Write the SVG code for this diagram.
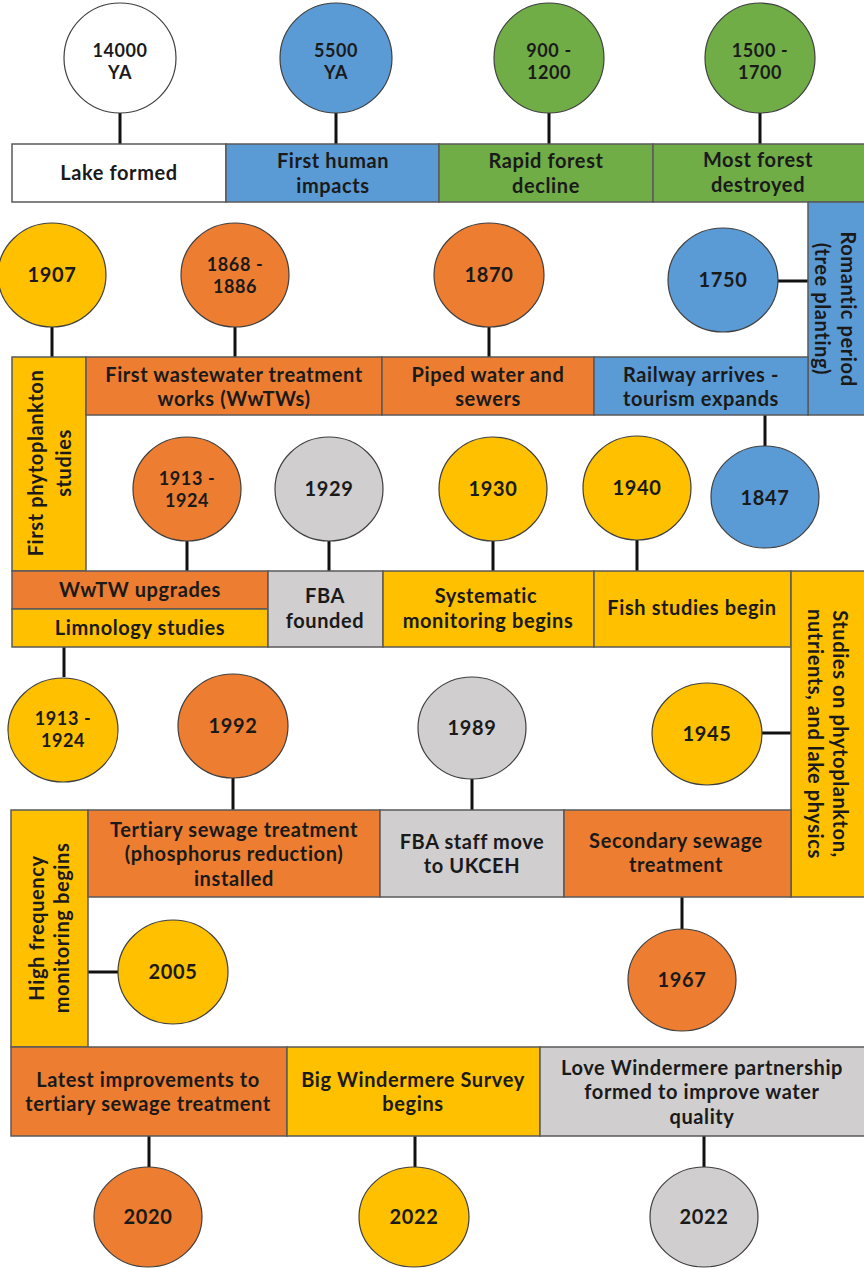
<svg xmlns="http://www.w3.org/2000/svg" width="864" height="1268" viewBox="0 0 864 1268">
<style>
.t{font-family:Lato,"Noto Sans","Liberation Sans",sans-serif;font-weight:bold;font-size:20px;letter-spacing:0.6px;fill:#1a1a1a;text-anchor:middle}
.s{font-size:18px}
.c{stroke:#3f3f3f;stroke-width:1.2}
.b{stroke:#5a5a5a;stroke-width:1.5}
.w{fill:#ffffff}.bl{fill:#5b9bd5}.gr{fill:#70ad47}.or{fill:#ed7d31}.ye{fill:#ffc000}.gy{fill:#d0cece}
.ln{stroke:#111;stroke-width:3;fill:none}
</style>
<rect width="864" height="1268" fill="#ffffff"/>
<g id="connectors">
<path class="ln" d="M120 113V144M336 113V144M549 113V144M760 113V144"/>
<path class="ln" d="M52 327V357M235 327V357M489 327V357M778 281H808M765 415V447"/>
<path class="ln" d="M187 541V571M329 541V571M493 541V571M637 540V571"/>
<path class="ln" d="M64 647V677M233 778V810M472 779V810M762 733H791M682 897V929"/>
<path class="ln" d="M88 972H118M149 1136V1167M415 1136V1167M704 1136V1167"/>
</g>
<!-- Row 1 -->
<g id="bar-lake"><rect class="b w" x="12" y="144" width="214" height="58"/><text class="t" x="119" y="180">Lake formed</text></g>
<g id="bar-human"><rect class="b bl" x="226" y="144" width="213" height="58"/><text class="t" x="333" y="168">First human</text><text class="t" x="333" y="193">impacts</text></g>
<g id="bar-rapid"><rect class="b gr" x="439" y="144" width="214" height="58"/><text class="t" x="546" y="168">Rapid forest</text><text class="t" x="546" y="193">decline</text></g>
<g id="bar-most"><rect class="b gr" x="653" y="144" width="213" height="58"/><text class="t" x="758" y="167">Most forest</text><text class="t" x="758" y="192">destroyed</text></g>
<g id="c-14000"><ellipse class="c w" cx="120" cy="58" rx="56" ry="55"/><text class="t s" x="120" y="57">14000</text><text class="t s" x="120" y="79">YA</text></g>
<g id="c-5500"><ellipse class="c bl" cx="336" cy="58" rx="56" ry="55"/><text class="t s" x="336" y="57">5500</text><text class="t s" x="336" y="79">YA</text></g>
<g id="c-900"><ellipse class="c gr" cx="549" cy="58" rx="55" ry="55"/><text class="t s" x="549" y="57">900 -</text><text class="t s" x="549" y="79">1200</text></g>
<g id="c-1500"><ellipse class="c gr" cx="760" cy="58" rx="55" ry="55"/><text class="t s" x="760" y="57">1500 -</text><text class="t s" x="760" y="79">1700</text></g>
<!-- Row 2 -->
<g id="bar-romantic"><rect class="b bl" x="808" y="202" width="58" height="213"/><g transform="translate(835 309) rotate(90)"><text class="t" x="0" y="-6">Romantic period</text><text class="t" x="0" y="20">(tree planting)</text></g></g>
<g id="bar-phyto"><rect class="b ye" x="12" y="357" width="74" height="214"/><g transform="translate(49 463) rotate(-90)"><text class="t" x="0" y="-6">First phytoplankton</text><text class="t" x="0" y="22">studies</text></g></g>
<g id="bar-wwtw"><rect class="b or" x="86" y="357" width="296" height="58"/><text class="t" x="234" y="382">First wastewater treatment</text><text class="t" x="234" y="406">works (WwTWs)</text></g>
<g id="bar-piped"><rect class="b or" x="382" y="357" width="212" height="58"/><text class="t" x="488" y="382">Piped water and</text><text class="t" x="488" y="406">sewers</text></g>
<g id="bar-railway"><rect class="b bl" x="594" y="357" width="214" height="58"/><text class="t" x="701" y="382">Railway arrives -</text><text class="t" x="701" y="406">tourism expands</text></g>
<g id="c-1907"><ellipse class="c ye" cx="52" cy="275" rx="54" ry="52"/><text class="t" x="52" y="282">1907</text></g>
<g id="c-1868"><ellipse class="c or" cx="235" cy="275" rx="54" ry="52"/><text class="t s" x="235" y="271">1868 -</text><text class="t s" x="235" y="293">1886</text></g>
<g id="c-1870"><ellipse class="c or" cx="489" cy="275" rx="55" ry="52"/><text class="t" x="489" y="282">1870</text></g>
<g id="c-1750"><ellipse class="c bl" cx="723" cy="280" rx="55" ry="52"/><text class="t" x="723" y="287">1750</text></g>
<g id="c-1847"><ellipse class="c bl" cx="765" cy="497" rx="54" ry="51"/><text class="t" x="765" y="505">1847</text></g>
<!-- Row 3 -->
<g id="bar-upgrades"><rect class="b or" x="12" y="571" width="256" height="38"/><text class="t" x="140" y="597">WwTW upgrades</text></g>
<g id="bar-limno"><rect class="b ye" x="12" y="609" width="256" height="38"/><text class="t" x="140" y="635">Limnology studies</text></g>
<g id="bar-fba"><rect class="b gy" x="268" y="571" width="115" height="76"/><text class="t" x="325" y="603">FBA</text><text class="t" x="325" y="628">founded</text></g>
<g id="bar-systematic"><rect class="b ye" x="383" y="571" width="211" height="76"/><text class="t" x="486" y="603">Systematic</text><text class="t" x="488" y="628">monitoring  begins</text></g>
<g id="bar-fish"><rect class="b ye" x="594" y="571" width="197" height="76"/><text class="t" x="692" y="615">Fish studies begin</text></g>
<g id="bar-studies"><rect class="b ye" x="791" y="571" width="75" height="326"/><g transform="translate(827 734) rotate(90)"><text class="t" x="0" y="-6">Studies on phytoplankton,</text><text class="t" x="0" y="19">nutrients, and lake physics</text></g></g>
<g id="c-1913a"><ellipse class="c or" cx="187" cy="489" rx="54" ry="52"/><text class="t s" x="187" y="485">1913 -</text><text class="t s" x="187" y="507">1924</text></g>
<g id="c-1929"><ellipse class="c gy" cx="329" cy="489" rx="54" ry="52"/><text class="t" x="329" y="496">1929</text></g>
<g id="c-1930"><ellipse class="c ye" cx="493" cy="489" rx="54" ry="52"/><text class="t" x="493" y="496">1930</text></g>
<g id="c-1940"><ellipse class="c ye" cx="637" cy="488" rx="54" ry="52"/><text class="t" x="637" y="495">1940</text></g>
<!-- Row 4 -->
<g id="c-1913b"><ellipse class="c ye" cx="63" cy="730" rx="55" ry="52"/><text class="t s" x="63" y="725">1913 -</text><text class="t s" x="63" y="747">1924</text></g>
<g id="c-1992"><ellipse class="c or" cx="233" cy="726" rx="55" ry="52"/><text class="t" x="233" y="733">1992</text></g>
<g id="c-1989"><ellipse class="c gy" cx="472" cy="728" rx="54" ry="51"/><text class="t" x="472" y="735">1989</text></g>
<g id="c-1945"><ellipse class="c ye" cx="707" cy="734" rx="55" ry="51"/><text class="t" x="707" y="741">1945</text></g>
<g id="bar-high"><rect class="b ye" x="11" y="810" width="77" height="237"/><g transform="translate(49 928) rotate(-90)"><text class="t" x="0" y="-5">High frequency</text><text class="t" x="0" y="20">monitoring begins</text></g></g>
<g id="bar-tertiary"><rect class="b or" x="88" y="810" width="292" height="87"/><text class="t" x="234" y="837">Tertiary sewage treatment</text><text class="t" x="234" y="861">(phosphorus reduction)</text><text class="t" x="234" y="886">installed</text></g>
<g id="bar-staff"><rect class="b gy" x="380" y="810" width="184" height="87"/><text class="t" x="472" y="849">FBA staff move</text><text class="t" x="472" y="873">to UKCEH</text></g>
<g id="bar-secondary"><rect class="b or" x="564" y="810" width="227" height="87"/><text class="t" x="676" y="848">Secondary sewage</text><text class="t" x="676" y="872">treatment</text></g>
<g id="c-1967"><ellipse class="c or" cx="682" cy="980" rx="54" ry="51"/><text class="t" x="682" y="987">1967</text></g>
<g id="c-2005"><ellipse class="c ye" cx="173" cy="972" rx="55" ry="52"/><text class="t" x="173" y="979">2005</text></g>
<!-- Row 5 -->
<g id="bar-latest"><rect class="b or" x="11" y="1047" width="276" height="89"/><text class="t" x="148" y="1087">Latest improvements to</text><text class="t" x="148" y="1111">tertiary sewage treatment</text></g>
<g id="bar-big"><rect class="b ye" x="287" y="1047" width="253" height="89"/><text class="t" x="413" y="1087">Big Windermere Survey</text><text class="t" x="413" y="1111">begins</text></g>
<g id="bar-love"><rect class="b gy" x="540" y="1047" width="326" height="89"/><text class="t" x="702" y="1075">Love Windermere partnership</text><text class="t" x="702" y="1099">formed to improve water</text><text class="t" x="702" y="1124">quality</text></g>
<g id="c-2020"><ellipse class="c or" cx="148" cy="1217" rx="54" ry="50"/><text class="t" x="148" y="1224">2020</text></g>
<g id="c-2022a"><ellipse class="c ye" cx="414" cy="1217" rx="55" ry="50"/><text class="t" x="414" y="1224">2022</text></g>
<g id="c-2022b"><ellipse class="c gy" cx="704" cy="1217" rx="54" ry="50"/><text class="t" x="704" y="1224">2022</text></g>
</svg>
